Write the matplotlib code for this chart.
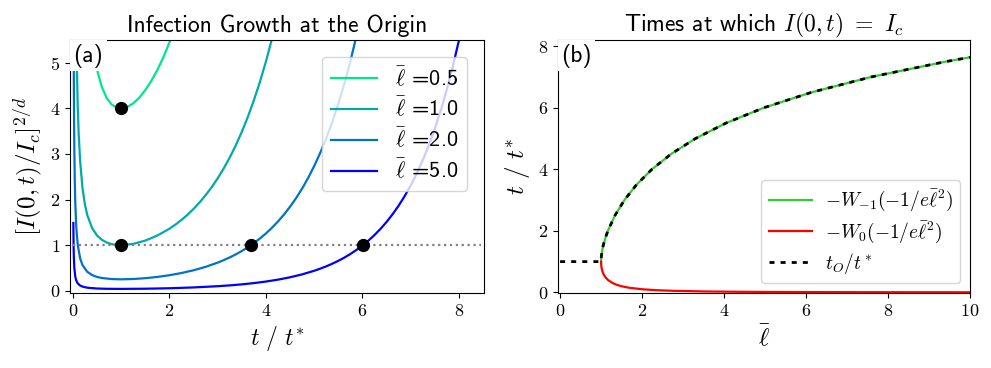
import matplotlib
matplotlib.use('Agg')
import matplotlib.pyplot as plt

plt.rcParams['mathtext.fontset'] = 'cm'
plt.rcParams['font.family'] = ['cmr10', 'DejaVu Sans']
plt.rcParams['axes.formatter.use_mathtext'] = True
plt.rcParams['axes.unicode_minus'] = False

# ---- panel (a): [I(0,t)/I_c]^(2/d) vs t/t*
ells = [0.5, 1.0, 2.0, 5.0]
colors = ['#00e68c', '#00aaaa', '#0073c6', '#0000ff']

t_05 = [0.3, 0.35, 0.4, 0.45, 0.5, 0.6, 0.7, 0.8, 0.9, 1.0, 1.125, 1.25, 1.375, 1.5, 1.625,
        1.75, 1.875, 2.0, 2.125]
y_05 = [6.62, 5.97, 5.49, 5.13, 4.85, 4.47, 4.23, 4.09, 4.02, 4.00, 4.029, 4.11, 4.233, 4.40, 4.599,
        4.84, 5.118, 5.44, 5.798]

t_10 = [0.05, 0.07, 0.1, 0.12, 0.15, 0.2, 0.25, 0.3, 0.4, 0.5, 0.6, 0.7, 0.8, 0.9, 1.0,
        1.25, 1.5, 1.75, 2.0, 2.125, 2.25, 2.375, 2.5, 2.625, 2.75, 2.875, 3.0, 3.125, 3.25,
        3.375, 3.5, 3.625, 3.75, 3.875, 4.0, 4.125, 4.25]
y_10 = [7.74, 5.64, 4.07, 3.46, 2.85, 2.25, 1.889, 1.655, 1.372, 1.213, 1.117, 1.058, 1.023, 1.005, 1.0,
        1.027, 1.099, 1.210, 1.359, 1.450, 1.551, 1.665, 1.793, 1.935, 2.093, 2.268, 2.463, 2.679, 2.919,
        3.185, 3.481, 3.808, 4.171, 4.574, 5.021, 5.518, 6.068]

t_20 = [0.01, 0.015, 0.02, 0.025, 0.03, 0.04, 0.05, 0.07, 0.1, 0.15, 0.2, 0.3, 0.4, 0.5, 0.6, 0.8, 1.0,
        1.25, 1.5, 1.75, 2.0, 2.25, 2.5, 2.75, 3.0, 3.125, 3.25, 3.375, 3.5, 3.625, 3.75, 3.875,
        4.0, 4.125, 4.25, 4.375, 4.5, 4.625, 4.75, 4.875, 5.0, 5.125, 5.25, 5.375, 5.5, 5.625,
        5.75, 5.875, 6.0]
y_20 = [9.29, 6.22, 4.69, 3.772, 3.16, 2.393, 1.934, 1.409, 1.017, 0.712, 0.562, 0.414, 0.343, 0.303, 0.279, 0.256, 0.25,
        0.257, 0.275, 0.302, 0.340, 0.388, 0.448, 0.523, 0.616, 0.670, 0.730, 0.796, 0.870, 0.952, 1.043, 1.144,
        1.255, 1.379, 1.517, 1.670, 1.840, 2.028, 2.238, 2.471, 2.730, 3.018, 3.338, 3.695, 4.092, 4.533,
        5.025, 5.573, 6.184]

t_50 = [0.01, 0.015, 0.02, 0.03, 0.05, 0.07, 0.1, 0.15, 0.2, 0.3, 0.5, 0.7, 1.0, 1.5, 2.0, 2.5, 3.0, 3.25,
        3.5, 3.75, 4.0, 4.25, 4.5, 4.75, 5.0, 5.125, 5.25, 5.375, 5.5, 5.625, 5.75, 5.875, 6.0, 6.125,
        6.25, 6.375, 6.5, 6.625, 6.75, 6.875, 7.0, 7.125, 7.25, 7.375, 7.5, 7.625, 7.75, 7.875,
        8.0, 8.125, 8.25]
y_50 = [1.486, 0.996, 0.751, 0.506, 0.309, 0.225, 0.163, 0.114, 0.090, 0.066, 0.0485, 0.0423, 0.040, 0.044, 0.054, 0.072, 0.099, 0.117,
        0.139, 0.167, 0.201, 0.243, 0.294, 0.358, 0.437, 0.483, 0.534, 0.591, 0.655, 0.725, 0.804, 0.892, 0.989, 1.098,
        1.220, 1.355, 1.506, 1.674, 1.862, 2.071, 2.305, 2.566, 2.858, 3.184, 3.547, 3.954, 4.408, 4.916,
        5.483, 6.118, 6.827]

dot_t = [1.0, 1.0, 3.69, 6.01]
dot_y = [4.0, 1.0, 1.0, 1.0]

# ---- panel (b): branches of -W(-1/(e l^2))
l_up = [1.0, 1.00235, 1.00888, 1.02526, 1.0484, 1.09987, 1.16582, 1.33893, 1.56941, 1.86563, 2.24094,
        2.71275, 3.30456, 4.04568, 4.97354, 6.13559, 7.59163, 9.41706, 10.0]
w_up = [1.0, 1.1, 1.2, 1.35, 1.5, 1.75, 2.0, 2.5, 3.0, 3.5, 4.0,
        4.5, 5.0, 5.5, 6.0, 6.5, 7.0, 7.5, 7.638]

l_lo = [1.0, 1.00268, 1.01164, 1.02874, 1.05698, 1.10139, 1.17133, 1.2866, 1.37456, 1.4989, 1.68804,
        2.01632, 2.37413, 2.78115, 3.55484, 4.33198, 4.98964, 6.09573, 7.27548, 8.59903, 10.0]
w_lo = [1.0, 0.9, 0.8, 0.7, 0.6, 0.5, 0.4, 0.3, 0.25, 0.2, 0.15,
        0.1, 0.07, 0.05, 0.03, 0.02, 0.015, 0.01, 0.007, 0.005, 0.00369]

l_flat = [0.0, 1.0]
t_flat = [1.0, 1.0]

fig = plt.figure(figsize=(9.91, 3.68), dpi=100)
ax1 = fig.add_axes([0.0706, 0.2038, 0.4177, 0.6875])
ax2 = fig.add_axes([0.5631, 0.2038, 0.4157, 0.6875])

curves = [(t_05, y_05), (t_10, y_10), (t_20, y_20), (t_50, y_50)]
for (tt, yy), l, c in zip(curves, ells, colors):
    ax1.plot(tt, yy, color=c, lw=1.6, label=r'$\bar{\ell}$ =' + str(l))
ax1.hlines(1, 0, 8.45, colors='gray', linestyles=':', lw=1.6)
ax1.plot(dot_t, dot_y, 'ko', ms=8.5, zorder=5)
ax1.set_xlim(-0.06, 8.52)
ax1.set_ylim(-0.05, 5.5)
ax1.set_xticks([0, 2, 4, 6, 8])
ax1.set_yticks([0, 1, 2, 3, 4, 5])
ax1.tick_params(labelsize=13)
ax1.set_xlabel(r'$t\ /\ t^{*}$', fontsize=17)
ax1.set_ylabel(r'$[I(0,t)/I_c]^{2/d}$', fontsize=18)
ax1.set_title('Infection Growth at the Origin', fontsize=17, family='cmss10')
ax1.legend(loc='upper right', prop={'family': 'cmss10', 'size': 16},
           handlelength=2.1, handletextpad=0.8, labelspacing=0.3, borderaxespad=0.75)
ax1.text(0.008, 0.985, '(a)', transform=ax1.transAxes, ha='left', va='top',
         fontsize=17, family='cmss10', zorder=10,
         bbox=dict(facecolor='white', edgecolor='none', pad=2.5))

ax2.plot(l_up, w_up, color='limegreen', lw=1.6, label=r'$-W_{-1}(-1/e\bar{\ell}^2)$')
ax2.plot(l_lo, w_lo, color='red', lw=1.6, label=r'$-W_0(-1/e\bar{\ell}^2)$')
ax2.plot(l_flat + l_up[1:], t_flat + w_up[1:], color='black', lw=2,
         linestyle=(0, (1.8, 2.2)), label=r'$t_O/t^*$')
ax2.set_xlim(-0.05, 10)
ax2.set_ylim(-0.02, 8.2)
ax2.set_xticks([0, 2, 4, 6, 8, 10])
ax2.set_yticks([0, 2, 4, 6, 8])
ax2.tick_params(labelsize=13)
ax2.set_xlabel(r'$\bar{\ell}$', fontsize=18)
ax2.set_ylabel(r'$t\ /\ t^{*}$', fontsize=18)
ax2.set_title(r'Times at which $I(0,t)\ =\ I_c$', fontsize=17, family='cmss10')
ax2.legend(loc='lower right', fontsize=14, handlelength=2.2, handletextpad=0.65,
           labelspacing=0.3)
ax2.text(0.008, 0.985, '(b)', transform=ax2.transAxes, ha='left', va='top',
         fontsize=17, family='cmss10', zorder=10,
         bbox=dict(facecolor='white', edgecolor='none', pad=2.5))

fig.savefig('out.png', dpi=100)
